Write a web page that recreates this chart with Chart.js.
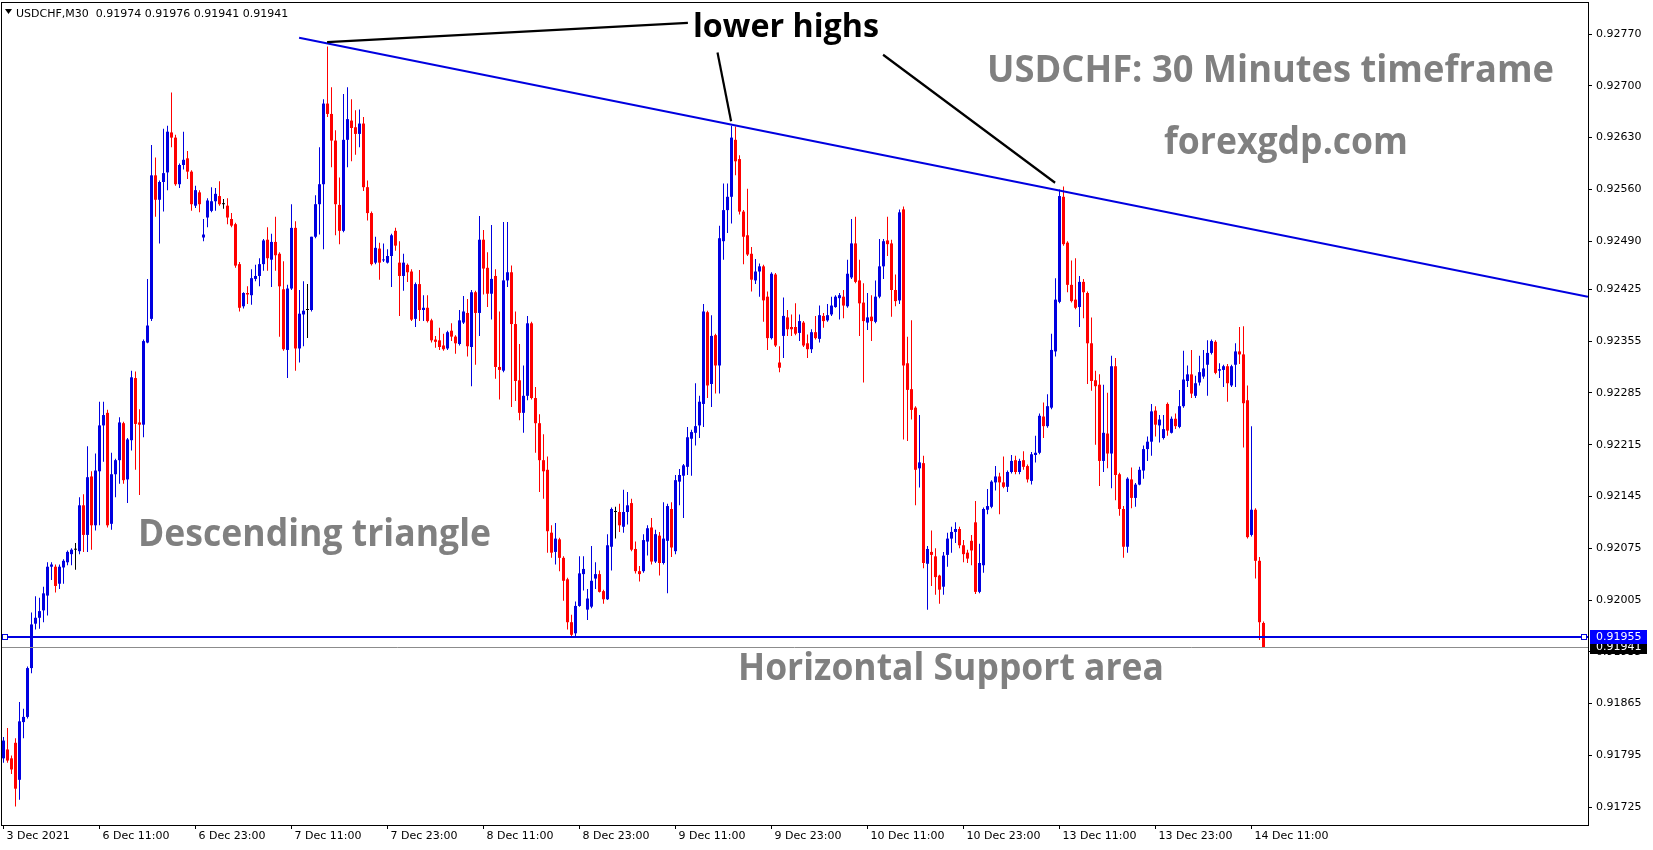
<!DOCTYPE html>
<html>
<head>
<meta charset="utf-8">
<title>USDCHF M30</title>
<script src="https://cdn.jsdelivr.net/npm/chart.js@4.4.1/dist/chart.umd.min.js"></script>
<style>
  html, body { margin: 0; padding: 0; background: #fff; overflow: hidden; }
  #wrap { position: relative; width: 1653px; height: 850px; }
</style>
</head>
<body>
<div id="wrap"><canvas id="chart"></canvas></div>
<script>
// one entry per 30 minute bar, prices in points (1 point = 0.00001)
const opens = [
  91791, 91803, 91791, 91812, 91762, 91840, 91847, 91913, 91973, 91981, 91991, 92011,
  92050, 92050, 92027, 92049, 92056, 92067, 92073, 92071, 92133, 92093, 92172, 92106,
  92179, 92241, 92258, 92108, 92175, 92194, 92244, 92168, 92221, 92305, 92245, 92242,
  92353, 92385, 92579, 92546, 92570, 92583, 92637, 92630, 92567, 92593, 92602, 92584,
  92538, 92556, 92495, 92522, 92531, 92544, 92551, 92540, 92538, 92520, 92513, 92459,
  92402, 92420, 92417, 92439, 92443, 92459, 92492, 92465, 92489, 92473, 92425, 92343,
  92426, 92508, 92345, 92391, 92397, 92397, 92496, 92540, 92567, 92676, 92662, 92626,
  92539, 92504, 92627, 92653, 92644, 92635, 92649, 92563, 92528, 92461, 92480, 92464,
  92461, 92470, 92504, 92461, 92443, 92458, 92449, 92385, 92432, 92397, 92400, 92383,
  92357, 92356, 92349, 92345, 92369, 92361, 92351, 92380, 92393, 92347, 92421, 92393,
  92492, 92454, 92419, 92443, 92320, 92315, 92437, 92448, 92378, 92302, 92258, 92281,
  92379, 92278, 92244, 92194, 92181, 92096, 92070, 92087, 92062, 92033, 91975, 91960,
  91997, 92040, 91992, 91996, 92034, 92040, 92017, 92006, 92077, 92124, 92124, 92104,
  92124, 92136, 92074, 92044, 92044, 92084, 92103, 92057, 92092, 92055, 92085, 92128,
  92071, 92165, 92173, 92185, 92223, 92231, 92241, 92270, 92394, 92297, 92363, 92322,
  92490, 92532, 92550, 92627, 92601, 92530, 92498, 92473, 92437, 92449, 92456, 92415,
  92359, 92445, 92326, 92362, 92387, 92374, 92374, 92366, 92380, 92352, 92344, 92367,
  92358, 92389, 92383, 92391, 92401, 92413, 92415, 92402, 92441, 92487, 92437, 92407,
  92380, 92388, 92381, 92415, 92456, 92491, 92487, 92424, 92410, 92533, 92325, 92290,
  92265, 92183, 92190, 92054, 92070, 92064, 92038, 92023, 92066, 92088, 92097, 92101,
  92079, 92069, 92085, 92110, 92016, 92052, 92127, 92131, 92164, 92172, 92164, 92158,
  92178, 92194, 92178, 92194, 92186, 92166, 92201, 92204, 92253, 92240, 92265, 92341,
  92408, 92550, 92488, 92431, 92411, 92401, 92435, 92420, 92352, 92302, 92296, 92193,
  92230, 92203, 92321, 92175, 92128, 92077, 92168, 92143, 92161, 92180, 92209, 92219,
  92261, 92241, 92224, 92270, 92231, 92250, 92239, 92267, 92301, 92310, 92281, 92299,
  92307, 92323, 92339, 92354, 92315, 92316, 92321, 92295, 92323, 92341, 92337, 92275,
  92093, 92127, 92058, 91974
];
const highs = [
  91820, 91832, 91795, 91818, 91867, 91858, 91915, 91988, 92010, 92008, 92023, 92056,
  92056, 92053, 92053, 92060, 92072, 92075, 92082, 92144, 92148, 92213, 92179, 92203,
  92273, 92273, 92262, 92204, 92196, 92252, 92246, 92224, 92315, 92314, 92263, 92357,
  92439, 92620, 92603, 92572, 92642, 92646, 92691, 92634, 92595, 92638, 92612, 92586,
  92565, 92559, 92520, 92548, 92563, 92562, 92571, 92547, 92548, 92528, 92515, 92462,
  92421, 92429, 92452, 92458, 92467, 92493, 92509, 92500, 92523, 92475, 92463, 92431,
  92540, 92517, 92424, 92436, 92432, 92496, 92552, 92617, 92682, 92753, 92698, 92640,
  92576, 92689, 92698, 92682, 92667, 92668, 92658, 92572, 92530, 92496, 92488, 92487,
  92479, 92500, 92508, 92490, 92473, 92460, 92452, 92434, 92451, 92417, 92417, 92385,
  92362, 92373, 92365, 92369, 92379, 92363, 92397, 92416, 92412, 92424, 92423, 92524,
  92505, 92475, 92512, 92452, 92395, 92516, 92516, 92457, 92395, 92351, 92322, 92389,
  92381, 92293, 92256, 92229, 92199, 92106, 92109, 92089, 92064, 92035, 91985, 92003,
  92064, 92064, 92020, 92078, 92056, 92045, 92019, 92094, 92130, 92131, 92135, 92154,
  92151, 92142, 92084, 92051, 92094, 92106, 92116, 92100, 92097, 92137, 92135, 92137,
  92174, 92182, 92189, 92239, 92235, 92298, 92281, 92405, 92396, 92390, 92365, 92511,
  92568, 92568, 92646, 92645, 92606, 92532, 92561, 92482, 92466, 92460, 92458, 92422,
  92448, 92447, 92348, 92414, 92397, 92391, 92406, 92391, 92382, 92364, 92371, 92389,
  92403, 92393, 92405, 92415, 92417, 92420, 92424, 92465, 92520, 92523, 92465, 92433,
  92420, 92417, 92437, 92493, 92493, 92523, 92492, 92445, 92533, 92537, 92361, 92383,
  92267, 92255, 92200, 92078, 92099, 92075, 92039, 92070, 92096, 92104, 92110, 92104,
  92086, 92073, 92093, 92139, 92081, 92130, 92155, 92167, 92186, 92177, 92199, 92180,
  92201, 92200, 92196, 92206, 92188, 92205, 92227, 92257, 92272, 92283, 92365, 92440,
  92560, 92564, 92490, 92464, 92467, 92443, 92439, 92422, 92387, 92315, 92310, 92296,
  92285, 92335, 92332, 92177, 92132, 92171, 92184, 92163, 92185, 92214, 92226, 92270,
  92267, 92255, 92255, 92272, 92253, 92257, 92289, 92342, 92322, 92343, 92308, 92335,
  92343, 92356, 92357, 92356, 92325, 92323, 92324, 92323, 92352, 92374, 92375, 92295,
  92240, 92129, 92063, 91976
];
const lows = [
  91785, 91785, 91770, 91726, 91735, 91818, 91845, 91906, 91965, 91966, 91975, 91984,
  92032, 92015, 92020, 92027, 92052, 92052, 92046, 92067, 92070, 92070, 92073, 92099,
  92106, 92192, 92103, 92100, 92144, 92162, 92162, 92136, 92207, 92181, 92147, 92225,
  92352, 92382, 92523, 92487, 92530, 92559, 92617, 92565, 92562, 92587, 92574, 92531,
  92535, 92529, 92490, 92509, 92529, 92531, 92538, 92534, 92513, 92509, 92454, 92395,
  92399, 92405, 92404, 92436, 92429, 92450, 92450, 92428, 92450, 92361, 92342, 92305,
  92424, 92315, 92326, 92348, 92359, 92395, 92494, 92499, 92479, 92658, 92590, 92498,
  92486, 92502, 92590, 92598, 92607, 92617, 92558, 92518, 92457, 92459, 92438, 92462,
  92460, 92428, 92477, 92389, 92423, 92435, 92382, 92374, 92382, 92382, 92380, 92353,
  92346, 92343, 92342, 92343, 92355, 92338, 92349, 92378, 92334, 92294, 92323, 92362,
  92418, 92401, 92384, 92304, 92276, 92313, 92428, 92266, 92274, 92248, 92231, 92275,
  92276, 92204, 92151, 92142, 92069, 92062, 92053, 92044, 92004, 91965, 91955, 91955,
  91996, 92018, 91978, 91994, 92020, 92015, 92000, 92005, 92045, 92088, 92097, 92096,
  92107, 92071, 92041, 92030, 92042, 92065, 92053, 92055, 92038, 92053, 92014, 92063,
  92067, 92133, 92116, 92174, 92173, 92214, 92224, 92239, 92278, 92266, 92284, 92284,
  92465, 92501, 92514, 92579, 92526, 92459, 92470, 92422, 92432, 92415, 92381, 92343,
  92357, 92347, 92313, 92332, 92362, 92362, 92363, 92355, 92347, 92332, 92339, 92357,
  92353, 92373, 92381, 92389, 92400, 92384, 92386, 92400, 92439, 92433, 92362, 92299,
  92370, 92355, 92379, 92413, 92439, 92470, 92388, 92402, 92405, 92222, 92220, 92249,
  92133, 92157, 92048, 91992, 92024, 92012, 92000, 92012, 92050, 92069, 92082, 92075,
  92056, 92055, 92052, 92013, 92014, 92042, 92121, 92129, 92153, 92121, 92156, 92151,
  92176, 92175, 92175, 92181, 92164, 92161, 92191, 92202, 92224, 92238, 92263, 92334,
  92406, 92484, 92421, 92407, 92398, 92374, 92386, 92297, 92288, 92215, 92159, 92178,
  92183, 92156, 92140, 92119, 92062, 92069, 92129, 92131, 92160, 92169, 92193, 92200,
  92226, 92218, 92222, 92227, 92230, 92236, 92237, 92265, 92293, 92278, 92278, 92295,
  92304, 92281, 92337, 92310, 92305, 92293, 92273, 92293, 92293, 92324, 92211, 92088,
  92091, 92034, 91951, 91941
];
const closes = [
  91815, 91788, 91776, 91750, 91841, 91847, 91913, 91972, 91981, 91990, 92014, 92050,
  92053, 92024, 92050, 92058, 92070, 92073, 92073, 92133, 92093, 92171, 92106, 92180,
  92241, 92255, 92106, 92175, 92194, 92245, 92167, 92222, 92306, 92243, 92242, 92355,
  92376, 92579, 92546, 92570, 92582, 92638, 92630, 92567, 92593, 92600, 92584, 92540,
  92559, 92540, 92499, 92545, 92544, 92554, 92540, 92540, 92522, 92511, 92457, 92400,
  92420, 92418, 92440, 92443, 92459, 92491, 92467, 92489, 92471, 92429, 92344, 92426,
  92508, 92345, 92392, 92396, 92397, 92496, 92540, 92567, 92676, 92662, 92626, 92540,
  92504, 92627, 92655, 92643, 92635, 92649, 92563, 92528, 92459, 92481, 92461, 92465,
  92470, 92498, 92484, 92443, 92461, 92448, 92384, 92432, 92397, 92400, 92382, 92356,
  92354, 92347, 92344, 92367, 92361, 92352, 92383, 92395, 92348, 92421, 92393, 92492,
  92453, 92419, 92439, 92320, 92316, 92437, 92448, 92378, 92301, 92258, 92281, 92379,
  92278, 92244, 92194, 92179, 92098, 92069, 92088, 92062, 92031, 91975, 91958, 91997,
  92041, 92047, 92007, 92031, 92040, 92016, 92006, 92079, 92128, 92124, 92106, 92124,
  92133, 92073, 92044, 92040, 92086, 92102, 92057, 92094, 92055, 92088, 92132, 92076,
  92167, 92174, 92187, 92225, 92232, 92240, 92273, 92395, 92295, 92362, 92322, 92494,
  92532, 92550, 92630, 92598, 92530, 92496, 92472, 92438, 92449, 92456, 92410, 92359,
  92446, 92349, 92319, 92389, 92371, 92371, 92365, 92382, 92349, 92344, 92367, 92359,
  92390, 92382, 92390, 92403, 92415, 92417, 92403, 92446, 92487, 92435, 92406, 92382,
  92387, 92382, 92415, 92456, 92490, 92486, 92424, 92409, 92529, 92322, 92289, 92262,
  92181, 92191, 92055, 92074, 92066, 92036, 92019, 92065, 92088, 92097, 92101, 92079,
  92067, 92061, 92072, 92016, 92055, 92128, 92132, 92165, 92172, 92164, 92158, 92178,
  92193, 92178, 92193, 92185, 92168, 92202, 92204, 92254, 92240, 92267, 92343, 92411,
  92551, 92486, 92431, 92409, 92400, 92435, 92421, 92352, 92301, 92294, 92193, 92231,
  92203, 92321, 92174, 92128, 92077, 92169, 92143, 92161, 92181, 92209, 92219, 92260,
  92242, 92249, 92236, 92234, 92250, 92240, 92267, 92303, 92310, 92284, 92298, 92313,
  92318, 92339, 92355, 92312, 92317, 92321, 92298, 92321, 92341, 92337, 92271, 92090,
  92127, 92058, 91975, 91941
];

// time axis: bar index of each label and its text
const xTickBars = [0, 24, 48, 72, 96, 120, 144, 168, 192, 216, 240, 264, 288, 312];
const xTickLabels = ['3 Dec 2021', '6 Dec 11:00', '6 Dec 23:00', '7 Dec 11:00', '7 Dec 23:00',
  '8 Dec 11:00', '8 Dec 23:00', '9 Dec 11:00', '9 Dec 23:00', '10 Dec 11:00', '10 Dec 23:00',
  '13 Dec 11:00', '13 Dec 23:00', '14 Dec 11:00'];
// price axis labels as printed by the terminal
const yTickValues = [0.91725, 0.91795, 0.91865, 0.91935, 0.92005, 0.92075, 0.92145, 0.92215,
  0.92285, 0.92355, 0.92425, 0.92490, 0.92560, 0.92630, 0.92700, 0.92770];

// drawn objects, anchored in (bar index, price)
const supportPrice = 0.91955;
const bidPrice = 0.91941;
const trendFrom = { x: 73.9, y: 0.92765 };
const trendTo = { x: 396.1, y: 0.92415 };
const pointerLines = [
  [{ x: 80.9, y: 0.92759 }, { x: 171.1, y: 0.92785 }],
  [{ x: 178.5, y: 0.92745 }, { x: 181.9, y: 0.92652 }],
  [{ x: 219.9, y: 0.92742 }, { x: 262.9, y: 0.92569 }]
];

const BLUE = '#0000e0';
const RED = '#ff0000';
const GRAY = '#808080';
const AXIS_FONT = { family: 'Tahoma, "DejaVu Sans", sans-serif', size: 11 };

const bars = opens.map((_, i) => i);
const pt = v => v / 1e5;
const candleColor = i => closes[i] > opens[i] ? BLUE : (closes[i] < opens[i] ? RED : '#000');
const colors = bars.map(candleColor);

// big captions, left x / baseline y in canvas px, stretched to the width seen in the picture
const notes = [
  { text: 'lower highs', x: 693, y: 37, w: 186, size: 32, color: '#000' },
  { text: 'USDCHF: 30 Minutes timeframe', x: 987, y: 82, w: 567, size: 38, color: GRAY },
  { text: 'forexgdp.com', x: 1164, y: 154, w: 244, size: 38, color: GRAY },
  { text: 'Descending triangle', x: 138, y: 546, w: 353, size: 38, color: GRAY },
  { text: 'Horizontal Support area', x: 738, y: 680, w: 426, size: 38, color: GRAY }
];

function strokeLine(ctx, x1, y1, x2, y2, color, width) {
  ctx.beginPath();
  ctx.moveTo(x1, y1);
  ctx.lineTo(x2, y2);
  ctx.strokeStyle = color;
  ctx.lineWidth = width;
  ctx.stroke();
}

function fitText(ctx, n) {
  ctx.save();
  ctx.font = `bold ${n.size}px "Open Sans", sans-serif`;
  const mw = ctx.measureText(n.text).width;
  ctx.translate(n.x, n.y);
  ctx.scale(n.w / mw, 1);
  ctx.fillStyle = n.color;
  ctx.textBaseline = 'alphabetic';
  ctx.fillText(n.text, 0, 0);
  ctx.restore();
}

function priceBox(ctx, yScale, price, bg, left) {
  const cy = Math.round(yScale.getPixelForValue(price));
  ctx.fillStyle = bg;
  ctx.fillRect(left, cy - 7, 57, 14);
  ctx.fillStyle = '#fff';
  ctx.font = `${AXIS_FONT.size}px ${AXIS_FONT.family}`;
  ctx.textBaseline = 'middle';
  ctx.textAlign = 'left';
  ctx.fillText(price.toFixed(5), left + 6, cy + 0.5);
}

const overlay = {
  id: 'overlay',
  afterDatasetsDraw(chart) {
    const { ctx, chartArea: a, scales: { x, y } } = chart;
    const P = p => [x.getPixelForValue(p.x), y.getPixelForValue(p.y)];
    ctx.save();
    ctx.beginPath();
    ctx.rect(a.left, a.top, a.right - a.left, a.bottom - a.top);
    ctx.clip();

    // bid line
    const bidY = Math.round(y.getPixelForValue(bidPrice)) + 0.5;
    strokeLine(ctx, a.left, bidY, a.right, bidY, '#8c8c8c', 1);

    // horizontal support
    const supY = y.getPixelForValue(supportPrice);
    strokeLine(ctx, a.left, supY, a.right, supY, BLUE, 2);

    // descending trend line
    const [tx1, ty1] = P(trendFrom);
    const [tx2, ty2] = P(trendTo);
    strokeLine(ctx, tx1, ty1, tx2, ty2, BLUE, 2);

    // arrows of the "lower highs" note
    pointerLines.forEach(([p1, p2]) => {
      const [x1, y1] = P(p1);
      const [x2, y2] = P(p2);
      strokeLine(ctx, x1, y1, x2, y2, '#000', 2.2);
    });

    // selection handles of the support line
    [a.left + 4, a.right - 4].forEach(hx => {
      ctx.fillStyle = '#fff';
      ctx.fillRect(hx - 2.5, supY - 2.5, 5, 5);
      ctx.strokeStyle = BLUE;
      ctx.lineWidth = 1;
      ctx.strokeRect(hx - 2.5, supY - 2.5, 5, 5);
    });
    ctx.restore();
  },
  afterDraw(chart) {
    const { ctx, chartArea: a, scales: { y } } = chart;
    ctx.save();
    // chart frame
    ctx.strokeStyle = '#000';
    ctx.lineWidth = 1;
    ctx.strokeRect(a.left + 0.5, a.top + 0.5, a.right - a.left, a.bottom - a.top);

    // symbol header
    ctx.fillStyle = '#000';
    ctx.beginPath();
    ctx.moveTo(5, 9);
    ctx.lineTo(12, 9);
    ctx.lineTo(8.5, 14);
    ctx.closePath();
    ctx.fill();
    ctx.font = `${AXIS_FONT.size}px ${AXIS_FONT.family}`;
    ctx.textBaseline = 'alphabetic';
    ctx.textAlign = 'left';
    ctx.fillText('USDCHF,M30  0.91974 0.91976 0.91941 0.91941', 16, 17);

    notes.forEach(n => fitText(ctx, n));

    // price tags on the right scale
    priceBox(ctx, y, bidPrice, '#000', a.right + 2);
    priceBox(ctx, y, supportPrice, '#0000ff', a.right + 2);
    ctx.restore();
  }
};

const zeroPad = s => { s.paddingTop = 0; s.paddingBottom = 0; s.paddingLeft = 0; s.paddingRight = 0; };

new Chart(document.getElementById('chart'), {
  type: 'bar',
  data: {
    datasets: [
      {
        label: 'wick',
        data: bars.map(i => ({ x: i, y: [pt(lows[i]), pt(highs[i])] })),
        backgroundColor: colors,
        barThickness: 1,
        inflateAmount: 0,
        borderWidth: 0
      },
      {
        label: 'body',
        data: bars.map(i => ({ x: i, y: [pt(opens[i]), pt(closes[i])] })),
        backgroundColor: colors,
        barThickness: 3,
        minBarLength: 1,
        inflateAmount: 0,
        borderWidth: 0
      }
    ]
  },
  options: {
    responsive: true,
    maintainAspectRatio: false,
    devicePixelRatio: 1,
    animation: false,
    events: [],
    grouped: false,
    layout: { padding: { left: 1, top: 2, right: 0, bottom: 0 } },
    plugins: { legend: { display: false }, tooltip: { enabled: false } },
    scales: {
      x: {
        type: 'linear',
        min: -0.625,
        max: 396.125,
        offset: false,
        bounds: 'data',
        afterBuildTicks: s => { s.ticks = xTickBars.map(v => ({ value: v })); },
        afterFit: s => { s.height = 25; zeroPad(s); },
        ticks: {
          autoSkip: false,
          maxRotation: 0,
          align: 'start',
          labelOffset: 3,
          padding: 1,
          color: '#000',
          font: AXIS_FONT,
          callback: (v, idx) => xTickLabels[idx]
        },
        grid: { drawOnChartArea: false, drawTicks: true, tickLength: 4, color: '#000', offset: false },
        border: { display: false }
      },
      y: {
        position: 'right',
        min: 0.917009,
        max: 0.928133,
        bounds: 'data',
        afterBuildTicks: s => { s.ticks = yTickValues.map(v => ({ value: v })); },
        afterFit: s => { s.width = 65; zeroPad(s); },
        ticks: {
          padding: 4,
          color: '#000',
          font: AXIS_FONT,
          callback: v => v.toFixed(5)
        },
        grid: { drawOnChartArea: false, drawTicks: true, tickLength: 4, color: '#000' },
        border: { display: false }
      }
    }
  },
  plugins: [overlay]
});
</script>
</body>
</html>
